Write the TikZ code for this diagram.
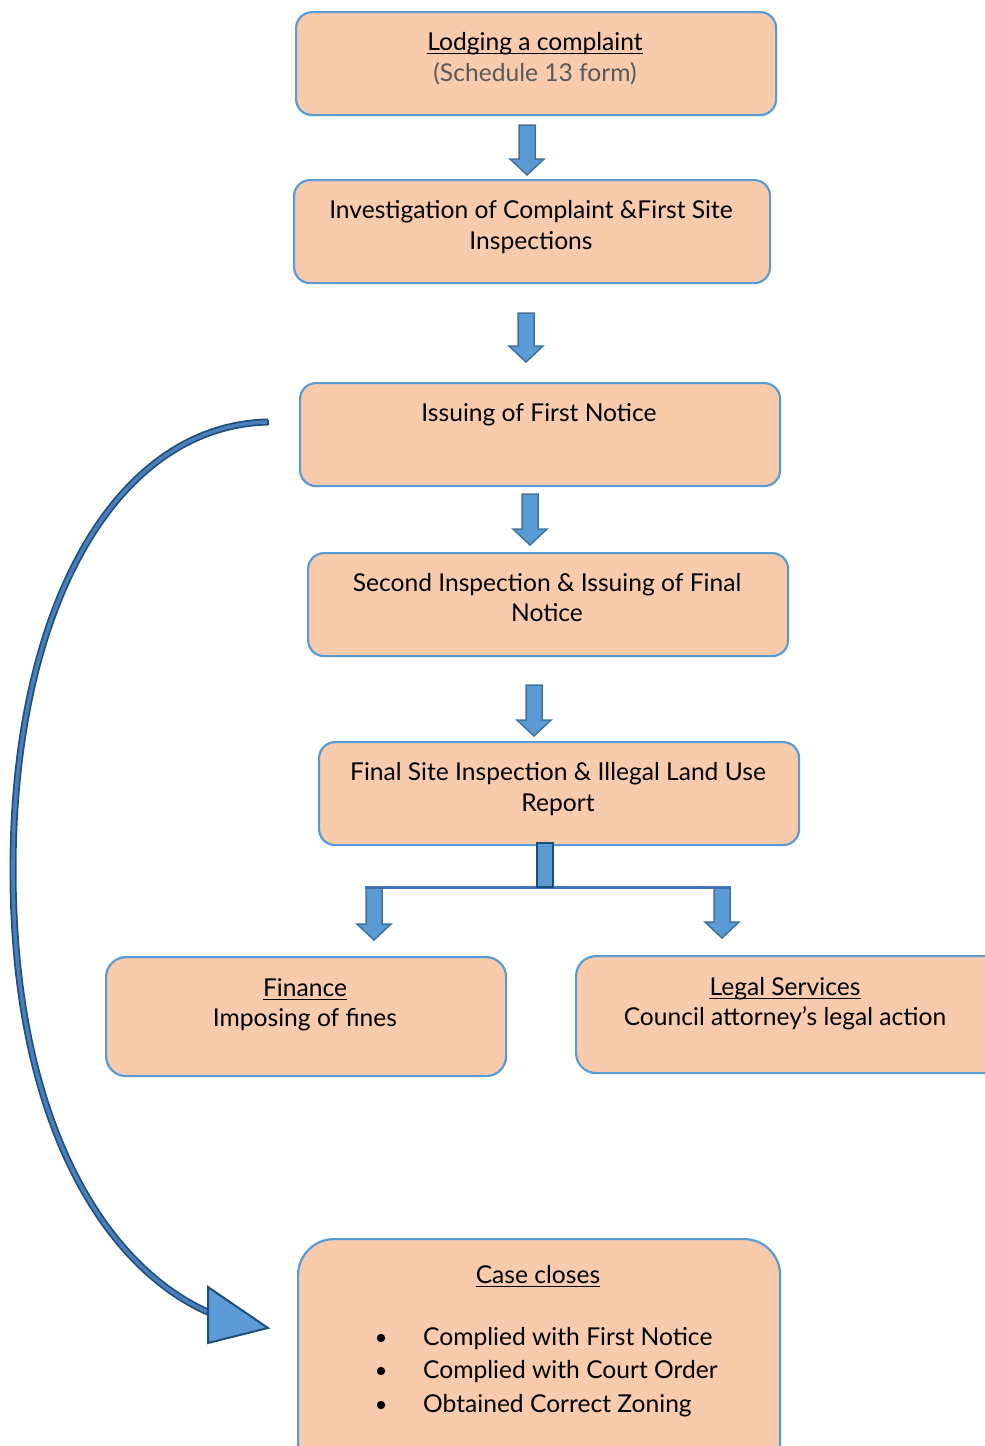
\documentclass[tikz,border=0pt]{standalone}
\usepackage{fontspec}
\setmainfont{Lato}
\definecolor{boxfill}{HTML}{F8CBAD}
\definecolor{boxline}{HTML}{5B9BD5}
\definecolor{arrfill}{HTML}{5B9BD5}
\definecolor{arrline}{HTML}{41719C}
\definecolor{darkline}{HTML}{1F4E79}
\definecolor{curvefill}{HTML}{4A7EBB}
\definecolor{splitline}{HTML}{4472C4}
\definecolor{graytext}{HTML}{595959}
\tikzset{
  box/.style={draw=boxline, fill=boxfill, line width=2.2pt, rounded corners=16pt, anchor=north west, inner sep=0pt},
  txt/.style={anchor=base, inner sep=0pt, font=\fontsize{24.6}{28}\selectfont},
  blockarr/.style={draw=arrline, fill=arrfill, line width=1.5pt, line join=miter},
  uline/.style={line width=1.2pt},
}
\newcommand{\barrow}[3]{\draw[blockarr] (#1-8,#2) -- (#1+8,#2) -- (#1+8,#3-16) -- (#1+17,#3-16) -- (#1,#3) -- (#1-17,#3-16) -- (#1-8,#3-16) -- cycle;}
\newcommand{\ulnode}[1]{\draw[uline] ([yshift=-3.5pt]#1.base west) -- ([yshift=-3.5pt]#1.base east);}
\begin{document}
\begin{tikzpicture}[x=1pt,y=-1pt]
\useasboundingbox (0,0) rectangle (985,1446);
\begin{scope}
\clip (0,0) rectangle (985,1446);
% boxes
\node[box, minimum width=480, minimum height=103] (b1) at (295,11) {};
\node[box, minimum width=476, minimum height=103] (b2) at (293,179) {};
\node[box, minimum width=480, minimum height=103] (b3) at (299,382) {};
\node[box, minimum width=480, minimum height=103] (b4) at (307,552) {};
\node[box, minimum width=480, minimum height=103] (b5) at (318,741) {};
\node[box, minimum width=400, minimum height=119, rounded corners=20pt] (b6) at (105,956) {};
\node[box, minimum width=430, minimum height=117, rounded corners=20pt] (b7) at (575,955) {};
\node[box, minimum width=482, minimum height=240, rounded corners=36pt] (b8) at (297,1238) {};
\end{scope}
% texts
\node[txt] (t1a) at (535,50) {Lodging a complaint};
\ulnode{t1a}
\node[txt, text=graytext] (t1b) at (535,81) {(Schedule 13 form)};
\node[txt] (t2a) at (531,218) {Investigation of Complaint \&First Site};
\node[txt] (t2b) at (531,249) {Inspections};
\node[txt] (t3a) at (539,421) {Issuing of First Notice};
\node[txt] (t4a) at (547,591) {Second Inspection \& Issuing of Final};
\node[txt] (t4b) at (547,621) {Notice};
\node[txt] (t5a) at (558,780) {Final Site Inspection \& Illegal Land Use};
\node[txt] (t5b) at (558,811) {Report};
\node[txt] (t6a) at (305,996) {Finance};
\ulnode{t6a}
\node[txt] (t6b) at (305,1026) {Imposing of fines};
\node[txt] (t7a) at (785,995) {Legal Services};
\ulnode{t7a}
\node[txt] (t7b) at (785,1025) {Council attorney’s legal action};
\node[txt] (t8a) at (538,1283) {Case closes};
\ulnode{t8a}
\foreach \yy/\tt [count=\i] in {1345/Complied with First Notice,1378/Complied with Court Order,1412/Obtained Correct Zoning}{
  \fill (381,\yy-7) circle (4.2pt);
  \node[txt, anchor=base west] (t8b\i) at (423,\yy) {\tt};
}
% straight block arrows
\barrow{527}{125}{175}
\barrow{526}{313}{362}
\barrow{530}{494}{545}
\barrow{534}{685}{736}
% split
\draw[splitline, line width=3pt] (365,887) -- (731,887);
\draw[blockarr, draw=darkline] (537,843) rectangle (553,887);
\barrow{374}{888}{940}
\barrow{722}{888}{938}
% curved arrow
\coordinate (cs) at (268,422);
\coordinate (cm) at (13,870);
\coordinate (ce) at (210,1313);
\draw[darkline, line width=7pt] (cs) .. controls (120,425) and (13,600) .. (cm) .. controls (13,1130) and (110,1270) .. (ce);
\draw[curvefill, line width=3.6pt] (cs) .. controls (120,425) and (13,600) .. (cm) .. controls (13,1130) and (110,1270) .. (ce);
\draw[darkline, line width=1.6pt] (268,419.5) -- (268,424.5);
\draw[draw=darkline, fill=arrfill, line width=2pt, line join=miter] (208,1287) -- (268,1328) -- (208,1343) -- cycle;
\end{tikzpicture}
\end{document}
